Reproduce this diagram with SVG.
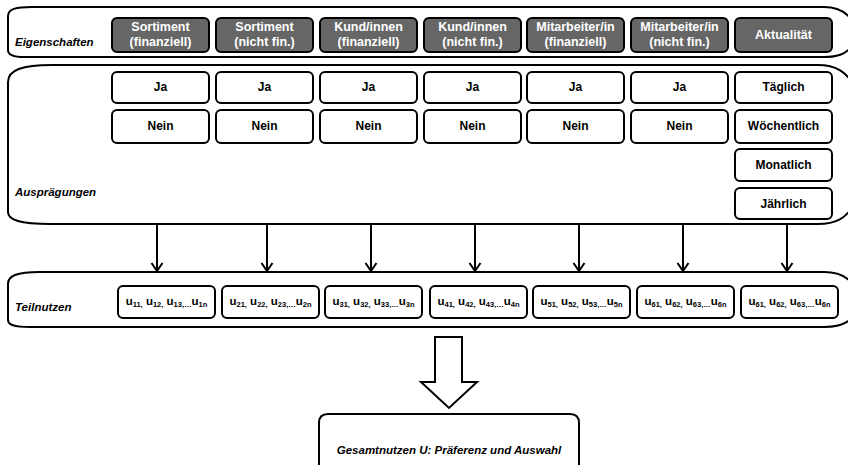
<svg xmlns="http://www.w3.org/2000/svg" width="848" height="465" viewBox="0 0 848 465">
<style>
.panel{fill:#fff;stroke:#000;stroke-width:2}
.hd{fill:#666;stroke:#000;stroke-width:2}
.bx{fill:#fff;stroke:#000;stroke-width:2}
.t{font-family:"Liberation Sans",Arial,sans-serif;font-weight:bold;text-anchor:middle}
.ht{font-size:12.5px;fill:#fff}
.bt{font-size:12px;fill:#000}
.lab{font-family:"Liberation Sans",Arial,sans-serif;font-weight:bold;font-style:italic;font-size:11.5px;fill:#000}
.u{font-family:"Liberation Sans",Arial,sans-serif;font-weight:bold;font-size:11.5px;text-anchor:middle;fill:#000}
.s{font-size:7.5px}
.con{stroke:#000;stroke-width:2;fill:none}
</style>
<defs>
<marker id="ah" markerUnits="userSpaceOnUse" markerWidth="12" markerHeight="14" refX="10" refY="7" orient="auto" viewBox="0 0 12 14">
<path d="M2,1.5 L10,7 L2,12.5" fill="none" stroke="#000" stroke-width="2"/>
</marker>
</defs>
<rect width="848" height="465" fill="#fff"/>

<g id="panel-eigenschaften">
<path class="panel" d="M8 16 C8 9 16 7 32 7 L824 7 C838 7 846 12 852 20 L852 46 C846 54 838 57 824 57 L24 57 C13 57 8 54 8 50 Z"/>
<text class="lab" x="15" y="46">Eigenschaften</text>
</g>
<g id="panel-auspraegungen">
<path class="panel" d="M8 82 C8 70 22 65 52 65 L818 65 C836 65 846 72 854 85 L854 205 C846 218 836 224 818 224 L50 224 C20 224 8 220 8 212 Z"/>
<text class="lab" x="15" y="196">Ausprägungen</text>
</g>
<g id="panel-teilnutzen">
<path class="panel" d="M8 284 C8 276 16 272 40 272 L824 272 C838 272 846 276 852 283 L852 318 C846 324 838 327 824 327 L30 327 C14 327 8 325 8 320 Z"/>
<text class="lab" x="15" y="311">Teilnutzen</text>
</g>

<g id="h1"><rect class="hd" x="112" y="18" width="97" height="34" rx="5"/><text class="t ht" x="160.5" y="31">Sortiment</text><text class="t ht" x="160.5" y="46">(finanziell)</text></g>
<g id="h2"><rect class="hd" x="216" y="18" width="97" height="34" rx="5"/><text class="t ht" x="264.5" y="31">Sortiment</text><text class="t ht" x="264.5" y="46">(nicht fin.)</text></g>
<g id="h3"><rect class="hd" x="320" y="18" width="97" height="34" rx="5"/><text class="t ht" x="368.5" y="31">Kund/innen</text><text class="t ht" x="368.5" y="46">(finanziell)</text></g>
<g id="h4"><rect class="hd" x="424" y="18" width="97" height="34" rx="5"/><text class="t ht" x="472.5" y="31">Kund/innen</text><text class="t ht" x="472.5" y="46">(nicht fin.)</text></g>
<g id="h5"><rect class="hd" x="527" y="18" width="97" height="34" rx="5"/><text class="t ht" x="575.5" y="31">Mitarbeiter/in</text><text class="t ht" x="575.5" y="46">(finanziell)</text></g>
<g id="h6"><rect class="hd" x="631" y="18" width="97" height="34" rx="5"/><text class="t ht" x="679.5" y="31">Mitarbeiter/in</text><text class="t ht" x="679.5" y="46">(nicht fin.)</text></g>
<g id="h7"><rect class="hd" x="735" y="18" width="97" height="34" rx="5"/><text class="t ht" x="783.5" y="39">Aktualität</text></g>

<g id="ja1"><rect class="bx" x="112" y="72" width="97" height="31" rx="5"/><text class="t bt" x="160.5" y="91">Ja</text></g>
<g id="ja2"><rect class="bx" x="216" y="72" width="97" height="31" rx="5"/><text class="t bt" x="264.5" y="91">Ja</text></g>
<g id="ja3"><rect class="bx" x="320" y="72" width="97" height="31" rx="5"/><text class="t bt" x="368.5" y="91">Ja</text></g>
<g id="ja4"><rect class="bx" x="424" y="72" width="97" height="31" rx="5"/><text class="t bt" x="472.5" y="91">Ja</text></g>
<g id="ja5"><rect class="bx" x="527" y="72" width="97" height="31" rx="5"/><text class="t bt" x="575.5" y="91">Ja</text></g>
<g id="ja6"><rect class="bx" x="631" y="72" width="97" height="31" rx="5"/><text class="t bt" x="679.5" y="91">Ja</text></g>
<g id="taeglich"><rect class="bx" x="735" y="72" width="97" height="31" rx="5"/><text class="t bt" x="783.5" y="91">Täglich</text></g>

<g id="nein1"><rect class="bx" x="112" y="110" width="97" height="33" rx="5"/><text class="t bt" x="160.5" y="130">Nein</text></g>
<g id="nein2"><rect class="bx" x="216" y="110" width="97" height="33" rx="5"/><text class="t bt" x="264.5" y="130">Nein</text></g>
<g id="nein3"><rect class="bx" x="320" y="110" width="97" height="33" rx="5"/><text class="t bt" x="368.5" y="130">Nein</text></g>
<g id="nein4"><rect class="bx" x="424" y="110" width="97" height="33" rx="5"/><text class="t bt" x="472.5" y="130">Nein</text></g>
<g id="nein5"><rect class="bx" x="527" y="110" width="97" height="33" rx="5"/><text class="t bt" x="575.5" y="130">Nein</text></g>
<g id="nein6"><rect class="bx" x="631" y="110" width="97" height="33" rx="5"/><text class="t bt" x="679.5" y="130">Nein</text></g>
<g id="woechentlich"><rect class="bx" x="735" y="110" width="97" height="33" rx="5"/><text class="t bt" x="783.5" y="130">Wöchentlich</text></g>
<g id="monatlich"><rect class="bx" x="735" y="149" width="97" height="32" rx="5"/><text class="t bt" x="783.5" y="169">Monatlich</text></g>
<g id="jaehrlich"><rect class="bx" x="735" y="188" width="97" height="31" rx="5"/><text class="t bt" x="783.5" y="208">Jährlich</text></g>

<g id="u1"><rect class="bx" x="118" y="286" width="97" height="32" rx="5"/><text class="u" x="166.5" y="305">u<tspan class="s" dy="2">11,</tspan><tspan dy="-2"> u</tspan><tspan class="s" dy="2">12,</tspan><tspan dy="-2"> u</tspan><tspan class="s" dy="2">13,…</tspan><tspan dy="-2">u</tspan><tspan class="s" dy="2">1n</tspan></text></g>
<g id="u2"><rect class="bx" x="222" y="286" width="97" height="32" rx="5"/><text class="u" x="270.5" y="305">u<tspan class="s" dy="2">21,</tspan><tspan dy="-2"> u</tspan><tspan class="s" dy="2">22,</tspan><tspan dy="-2"> u</tspan><tspan class="s" dy="2">23,…</tspan><tspan dy="-2">u</tspan><tspan class="s" dy="2">2n</tspan></text></g>
<g id="u3"><rect class="bx" x="325" y="286" width="97" height="32" rx="5"/><text class="u" x="373.5" y="305">u<tspan class="s" dy="2">31,</tspan><tspan dy="-2"> u</tspan><tspan class="s" dy="2">32,</tspan><tspan dy="-2"> u</tspan><tspan class="s" dy="2">33,…</tspan><tspan dy="-2">u</tspan><tspan class="s" dy="2">3n</tspan></text></g>
<g id="u4"><rect class="bx" x="430" y="286" width="97" height="32" rx="5"/><text class="u" x="478.5" y="305">u<tspan class="s" dy="2">41,</tspan><tspan dy="-2"> u</tspan><tspan class="s" dy="2">42,</tspan><tspan dy="-2"> u</tspan><tspan class="s" dy="2">43,…</tspan><tspan dy="-2">u</tspan><tspan class="s" dy="2">4n</tspan></text></g>
<g id="u5"><rect class="bx" x="533" y="286" width="97" height="32" rx="5"/><text class="u" x="581.5" y="305">u<tspan class="s" dy="2">51,</tspan><tspan dy="-2"> u</tspan><tspan class="s" dy="2">52,</tspan><tspan dy="-2"> u</tspan><tspan class="s" dy="2">53,…</tspan><tspan dy="-2">u</tspan><tspan class="s" dy="2">5n</tspan></text></g>
<g id="u6"><rect class="bx" x="637" y="286" width="97" height="32" rx="5"/><text class="u" x="685.5" y="305">u<tspan class="s" dy="2">61,</tspan><tspan dy="-2"> u</tspan><tspan class="s" dy="2">62,</tspan><tspan dy="-2"> u</tspan><tspan class="s" dy="2">63,…</tspan><tspan dy="-2">u</tspan><tspan class="s" dy="2">6n</tspan></text></g>
<g id="u7"><rect class="bx" x="741" y="286" width="97" height="32" rx="5"/><text class="u" x="789.5" y="305">u<tspan class="s" dy="2">61,</tspan><tspan dy="-2"> u</tspan><tspan class="s" dy="2">62,</tspan><tspan dy="-2"> u</tspan><tspan class="s" dy="2">63,…</tspan><tspan dy="-2">u</tspan><tspan class="s" dy="2">6n</tspan></text></g>

<g id="gesamtnutzen">
<path class="bx" d="M319 470 L319 423 Q319 414 328 414 L570 414 Q579 414 579 423 L579 470"/>
<text class="lab" x="449" y="454" text-anchor="middle">Gesamtnutzen U: Präferenz und Auswahl</text>
</g>

<g id="connectors">
<line class="con" x1="157" y1="225" x2="157" y2="271" marker-end="url(#ah)"/>
<line class="con" x1="267" y1="225" x2="267" y2="271" marker-end="url(#ah)"/>
<line class="con" x1="371" y1="225" x2="371" y2="271" marker-end="url(#ah)"/>
<line class="con" x1="475" y1="225" x2="475" y2="271" marker-end="url(#ah)"/>
<line class="con" x1="579" y1="225" x2="579" y2="271" marker-end="url(#ah)"/>
<line class="con" x1="683" y1="225" x2="683" y2="271" marker-end="url(#ah)"/>
<line class="con" x1="787" y1="225" x2="787" y2="271" marker-end="url(#ah)"/>
<path class="con" style="fill:#fff" d="M435 337 L462 337 L462 382 L477 382 L449 408 L421 382 L435 382 Z"/>
</g>
</svg>
